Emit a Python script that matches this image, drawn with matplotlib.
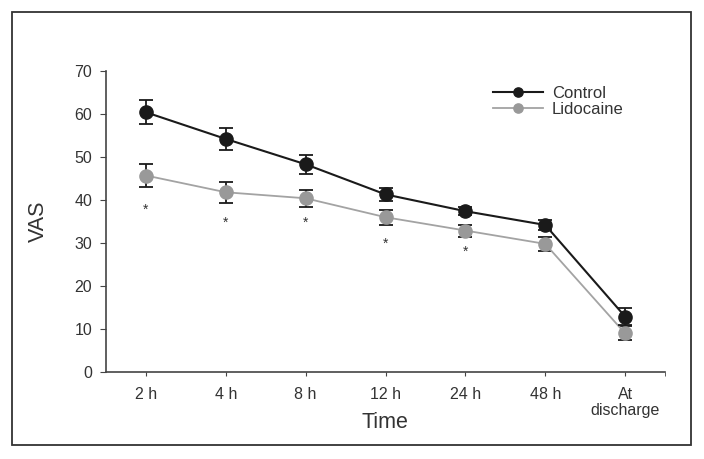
import matplotlib.pyplot as plt
from matplotlib.patches import Rectangle

plt.rcParams['font.family'] = ['Liberation Sans', 'DejaVu Sans']

# Datos
times = ['2 h', '4 h', '8 h', '12 h', '24 h', '48 h', 'At\ndischarge']
control = [60.4, 54.2, 48.3, 41.3, 37.4, 34.2, 12.9]
control_err = [2.8, 2.6, 2.2, 1.6, 1.0, 1.2, 1.9]
lidocaine = [45.7, 41.8, 40.4, 36.0, 32.9, 29.8, 9.0]
lidocaine_err = [2.7, 2.4, 2.0, 1.7, 1.4, 1.6, 1.6]
# posicion de los asteriscos (diferencias significativas)
star_idx = [0, 1, 2, 3, 4]
star_y = [37.7, 34.6, 34.6, 29.9, 28.0]

x = list(range(len(times)))
text_col = '#333333'

fig = plt.figure(figsize=(7.04, 4.59), dpi=100)
ax = fig.add_axes([0.1506, 0.1895, 0.794, 0.6558])

ax.errorbar(x, control, yerr=control_err, color='#1a1a1a', ecolor='#1a1a1a',
            marker='o', markersize=9.5, linewidth=1.5, elinewidth=1.3,
            capsize=5, capthick=1.3, label='Control', zorder=3)
ax.errorbar(x, lidocaine, yerr=lidocaine_err, color='#a3a3a3', ecolor='#1a1a1a',
            mfc='#999999', mec='#999999', marker='o', markersize=9.5,
            linewidth=1.3, elinewidth=1.3, capsize=5, capthick=1.3,
            label='Lidocaine', zorder=2)

for i, sy in zip(star_idx, star_y):
    ax.text(x[i], sy, '*', ha='center', va='center', fontsize=10, color=text_col)

ax.set_xlim(-0.5, 6.5)
ax.set_ylim(0, 70)
ax.set_xticks(x)
ax.set_xticklabels(times, fontsize=11.5, color=text_col, linespacing=1.1)
ax.set_xticks([6.5], minor=True)
ax.set_yticks(range(0, 71, 10))
ax.tick_params(axis='y', labelsize=11.5, labelcolor=text_col, length=4,
               color='#444444', pad=6)
ax.tick_params(axis='x', which='both', length=3, color='#444444', pad=8)

ax.spines['top'].set_visible(False)
ax.spines['right'].set_visible(False)
for s in ['left', 'bottom']:
    ax.spines[s].set_color('#444444')
    ax.spines[s].set_linewidth(1.2)

ax.set_ylabel('VAS', fontsize=15.5, color=text_col)
ax.set_xlabel('Time', fontsize=15.5, color=text_col)
ax.yaxis.set_label_coords(-0.102, 0.5)
ax.xaxis.set_label_coords(0.499, -0.132)

handles, labels = ax.get_legend_handles_labels()
handles = [h[0] for h in handles]
ax.legend(handles, labels, loc='upper left', bbox_to_anchor=(0.665, 1.0),
          frameon=False, fontsize=12, handlelength=3.0, handletextpad=0.55,
          labelspacing=0.05, markerscale=0.7, labelcolor=text_col)

# marco exterior
fig.patches.append(Rectangle((12 / 704, 1 - 445 / 459), 679 / 704, 433 / 459,
                             transform=fig.transFigure, fill=False,
                             edgecolor='#333333', linewidth=1.3))

fig.savefig('out.png', dpi=100)
